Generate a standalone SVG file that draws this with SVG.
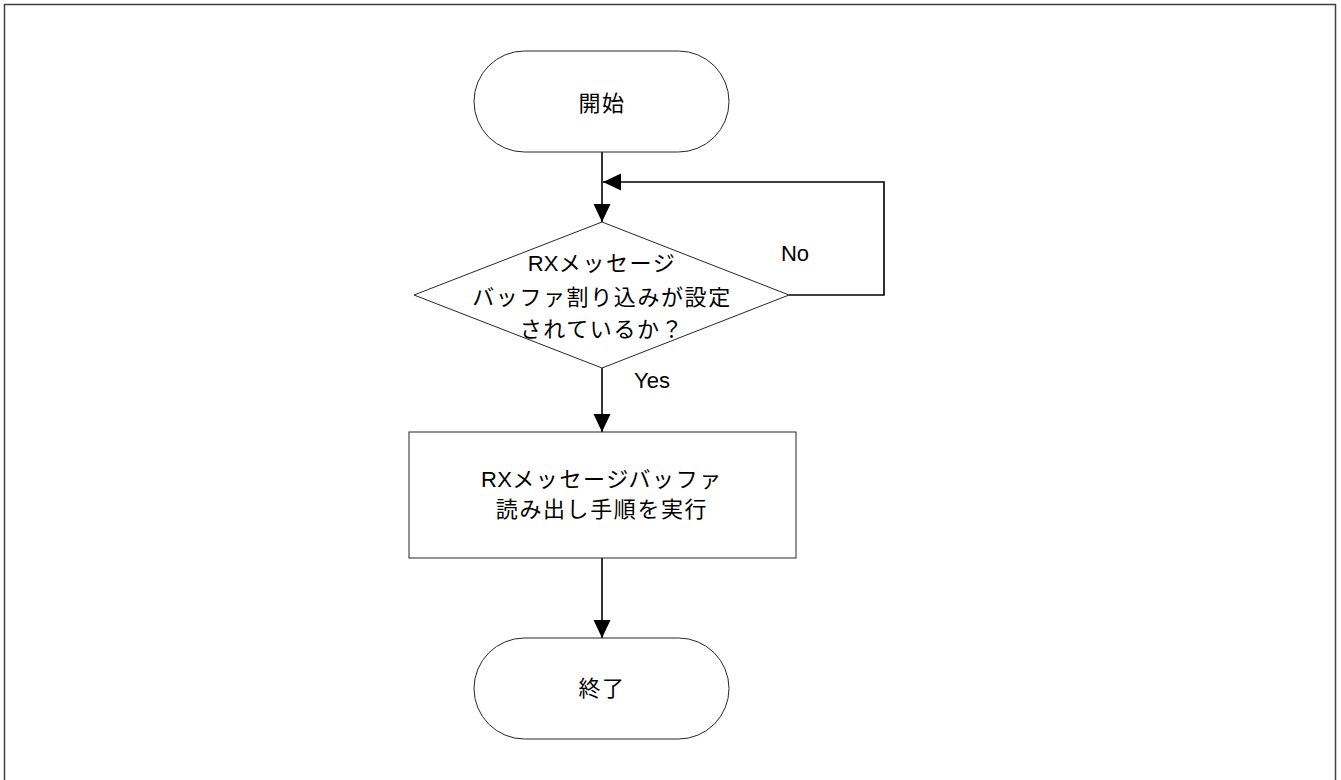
<svg xmlns="http://www.w3.org/2000/svg" width="1341" height="780" viewBox="0 0 1341 780">
<style>
.shape{fill:#fff;stroke:#262626;stroke-width:1}
.conn{fill:none;stroke:#000;stroke-width:1.6}
.t{font-family:"Liberation Sans","Noto Sans CJK JP",sans-serif;font-size:22px;fill:#000;text-anchor:middle;letter-spacing:1.6px}
.l{letter-spacing:0.3px}
.lbl{font-family:"Liberation Sans",sans-serif;font-size:22px;fill:#000;text-anchor:middle}
</style>
<defs>
<marker id="ah" markerWidth="18" markerHeight="18" refX="18" refY="8.5" orient="auto" markerUnits="userSpaceOnUse">
<path d="M0,0 L18,8.5 L0,17 Z" fill="#000"/>
</marker>
</defs>
<rect x="4.5" y="4.5" width="1331" height="800" fill="none" stroke="#404040" stroke-width="1.5"/>
<g id="connectors">
<line class="conn" x1="602" y1="152" x2="602" y2="222" marker-end="url(#ah)"/>
<polyline class="conn" points="789,295 884,295 884,182 603,182" marker-end="url(#ah)"/>
<line class="conn" x1="602" y1="368" x2="602" y2="432" marker-end="url(#ah)"/>
<line class="conn" x1="602" y1="558" x2="602" y2="638" marker-end="url(#ah)"/>
<text class="lbl" x="795" y="261">No</text>
<text class="lbl" x="652" y="388">Yes</text>
</g>
<g id="start">
<rect class="shape" x="474" y="51" width="255" height="101" rx="50.5" ry="50.5"/>
<text class="t" x="602" y="111">開始</text>
</g>
<g id="decision">
<polygon class="shape" points="602,222 789,295 602,368 414,295"/>
<text class="t" x="602" y="271"><tspan class="l">RX</tspan>メッセージ</text>
<text class="t" x="602" y="305">バッファ割り込みが設定</text>
<text class="t" x="602" y="337">されているか？</text>
</g>
<g id="process">
<rect class="shape" x="409" y="432" width="387" height="126"/>
<text class="t" x="602" y="487"><tspan class="l">RX</tspan>メッセージバッファ</text>
<text class="t" x="602" y="517">読み出し手順を実行</text>
</g>
<g id="end">
<rect class="shape" x="474" y="638" width="255" height="101" rx="50.5" ry="50.5"/>
<text class="t" x="602" y="696">終了</text>
</g>
</svg>
